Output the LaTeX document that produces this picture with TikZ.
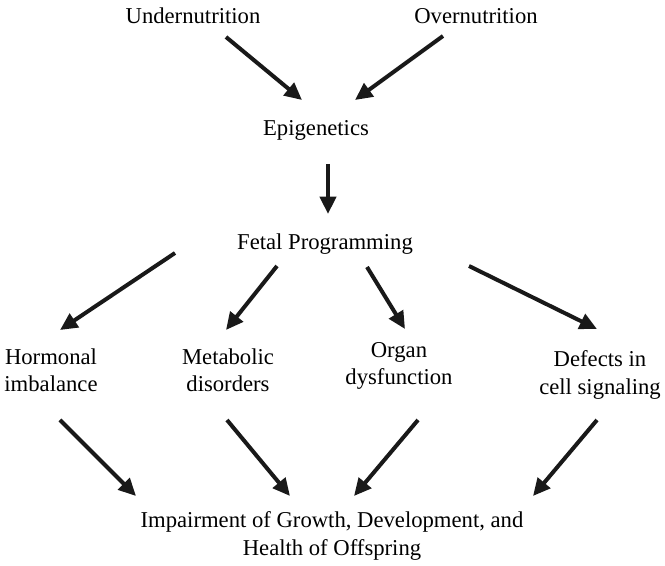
\documentclass[tikz,border=0pt]{standalone}
\usepackage{fontspec}
\setmainfont{Liberation Serif}
\usetikzlibrary{arrows.meta}
\begin{document}
\begin{tikzpicture}[x=0.75pt,y=-0.75pt,
  lbl/.style={font=\fontsize{17}{20.5}\selectfont, align=center, inner sep=0pt},
  arr/.style={line width=3pt, -{Triangle[length=13pt,width=12pt]}, color=black!90}]
\useasboundingbox (0,0) rectangle (665,566);
\node[lbl] (under) at (193,16) {Undernutrition};
\node[lbl] (over) at (476,16) {Overnutrition};
\node[lbl] (epi) at (316,130) {Epigenetics};
\node[lbl] (fetal) at (325,244) {Fetal Programming};
\node[lbl] (horm) at (51,370) {Hormonal\\imbalance};
\node[lbl] (meta) at (228,370) {Metabolic\\disorders};
\node[lbl] (organ) at (399,366) {Organ\\dysfunction};
\node[lbl] (defect) at (600,375) {Defects in\\cell signaling};
\node[lbl] (imp) at (332,536) {Impairment of Growth, Development, and\\Health of Offspring};
\coordinate (a1s) at (226,37); \coordinate (a1e) at (302,100);
\coordinate (a2s) at (443,36); \coordinate (a2e) at (355,100);
\coordinate (a3s) at (328,164); \coordinate (a3e) at (328,214);
\coordinate (a4s) at (175,253); \coordinate (a4e) at (60,330);
\coordinate (a5s) at (277,266); \coordinate (a5e) at (226,330);
\coordinate (a6s) at (367,267); \coordinate (a6e) at (405,329);
\coordinate (a7s) at (469,266); \coordinate (a7e) at (597,329);
\coordinate (a8s) at (60,420); \coordinate (a8e) at (136,496);
\coordinate (a9s) at (227,420); \coordinate (a9e) at (290,496);
\coordinate (a10s) at (418,420); \coordinate (a10e) at (354,496);
\coordinate (a11s) at (597,420); \coordinate (a11e) at (533,496);
\foreach \i in {1,...,11} {\draw[arr] (a\i s) -- (a\i e);}
\end{tikzpicture}
\end{document}
